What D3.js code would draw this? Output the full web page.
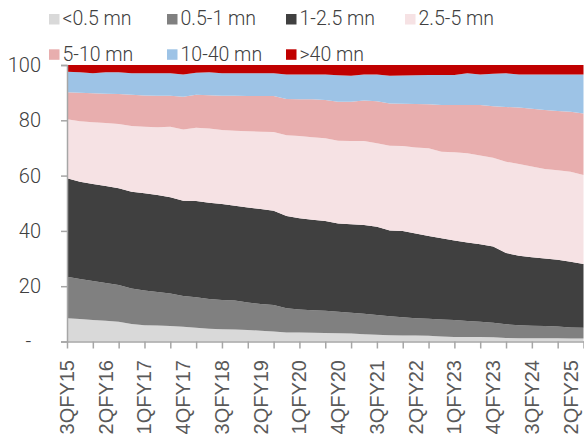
<!DOCTYPE html>
<html>
<head>
<meta charset="utf-8">
<script src="https://cdn.jsdelivr.net/npm/d3@7"></script>
<style>
  html, body { margin: 0; padding: 0; background: #fff; }
  svg { display: block; }
  .ylab { font-family: Roboto, sans-serif; font-weight: 300; font-size: 20px; fill: #404040; white-space: pre; }
  .xlab { font-family: "Liberation Sans", Arial, sans-serif; font-size: 20px; fill: #595959; }
  .leg { font-family: Roboto, sans-serif; font-weight: 300; font-size: 19.5px; fill: #404040; }
</style>
</head>
<body>
<div class="canvas"></div>
<script>

// quarters on the x axis
const quarters = ["3QFY15","4QFY15","1QFY16","2QFY16","3QFY16","4QFY16","1QFY17","2QFY17",
  "3QFY17","4QFY17","1QFY18","2QFY18","3QFY18","4QFY18","1QFY19","2QFY19","3QFY19","4QFY19",
  "1QFY20","2QFY20","3QFY20","4QFY20","1QFY21","2QFY21","3QFY21","4QFY21","1QFY22","2QFY22",
  "3QFY22","4QFY22","1QFY23","2QFY23","3QFY23","4QFY23","1QFY24","2QFY24","3QFY24","4QFY24",
  "1QFY25","2QFY25","3QFY25"];

// share (%) of each ticket-size bucket, per quarter
const below05 = [8.4,8.1,7.8,7.5,7.1,6.3,5.9,5.8,5.6,5.3,5.0,4.6,4.4,4.3,4.2,3.9,3.6,3.3,3.3,3.2,
  3.1,3.0,2.9,2.6,2.4,2.3,2.2,2.2,2.1,1.8,1.6,1.6,1.6,1.5,1.3,1.2,1.2,1.2,1.2,1.1,1.1];
const from05to1 = [15.0,14.5,14.1,13.7,13.3,12.9,12.5,12.1,11.8,11.2,11.0,10.8,10.6,10.5,9.9,9.7,
  9.6,8.7,8.3,8.1,8.0,7.8,7.5,7.4,7.2,6.8,6.6,6.2,6.1,6.2,6.2,5.8,5.5,5.3,4.9,4.7,4.5,4.4,4.2,4.0,3.9];
const from1to25 = [35.6,35.2,35.1,35.0,35.0,35.0,35.2,35.1,34.8,34.4,34.8,34.8,34.7,34.3,34.4,34.3,
  34.1,33.4,33.0,32.7,32.5,31.9,32.0,32.1,31.9,31.0,31.2,30.7,30.0,29.3,28.7,28.4,28.1,27.6,25.8,
  25.1,24.8,24.4,24.2,23.7,23.0];
const from25to5 = [21.4,21.9,22.3,22.8,23.3,23.7,24.1,24.5,25.5,25.8,26.5,26.8,26.8,27.1,27.5,28.0,
  28.5,29.2,29.7,29.9,29.9,29.9,30.1,30.4,30.2,30.7,30.7,31.1,31.7,31.3,31.9,32.3,32.1,32.1,33.0,
  33.2,32.8,32.4,32.3,32.6,32.2];
const from5to10 = [9.7,10.3,10.5,10.6,10.8,11.3,11.3,11.4,11.2,11.8,11.9,12.1,12.4,12.7,12.8,12.9,
  13.0,13.1,13.3,13.7,13.8,14.1,14.2,14.7,15.2,15.3,15.3,15.7,15.9,16.9,17.1,17.4,18.2,18.6,19.8,
  20.4,20.9,21.3,21.5,21.7,22.3];
const from10to40 = [7.5,7.4,7.2,7.8,7.9,7.8,8.0,8.1,8.1,8.1,8.0,8.3,8.1,8.1,8.2,8.2,8.2,8.9,9.0,9.0,
  9.3,9.6,9.4,9.4,9.7,10.0,10.2,10.4,10.6,10.9,10.9,11.5,11.1,11.7,12.2,12.0,12.4,12.9,13.2,13.5,14.1];
const above40 = [2.4,2.6,3.0,2.6,2.6,3.0,3.0,3.0,3.0,3.4,2.8,2.6,3.0,3.0,3.0,3.0,3.0,3.4,3.4,3.4,
  3.4,3.7,3.9,3.4,3.4,3.9,3.8,3.7,3.6,3.6,3.6,3.0,3.4,3.2,3.0,3.4,3.4,3.4,3.4,3.4,3.4];

const seriesNames = ["<0.5 mn","0.5-1 mn","1-2.5 mn","2.5-5 mn","5-10 mn","10-40 mn",">40 mn"];
const seriesValues = [below05, from05to1, from1to25, from25to5, from5to10, from10to40, above40];
const seriesColors = ["#d9d9d9","#808080","#404040","#f6e2e4","#e8aeae","#9dc3e6","#c00000"];

const yTicks = [0,20,40,60,80,100];
const yTickLabels = ["-  ","20","40","60","80","100"];

const width = 584, height = 441;

const svg = d3.select('.canvas')
  .append('svg')
    .attr('width', width)
    .attr('height', height);

// one row per quarter for d3.stack
const rows = quarters.map((q, i) => {
  const row = {quarter: q};
  seriesNames.forEach((name, k) => row[name] = seriesValues[k][i]);
  return row;
});

const stacked = d3.stack().keys(seriesNames)(rows);

const x = d3.scalePoint()
  .domain(quarters)
  .range([67, 583.5]);

const y = d3.scaleLinear()
  .domain([0, 100])
  .range([341.5, 65]);

const area = d3.area()
  .x(d => x(d.data.quarter))
  .y0(d => y(d[0]))
  .y1(d => y(d[1]));

svg.append('g')
  .selectAll('path')
  .data(stacked)
  .enter()
  .append('path')
    .attr('d', area)
    .attr('fill', (d, i) => seriesColors[i]);

// y axis
const yAxis = svg.append('g')
  .attr('transform', `translate(${x.range()[0]},0)`)
  .call(d3.axisLeft(y)
    .tickValues(yTicks)
    .tickSize(6)
    .tickPadding(20)
    .tickFormat((d, i) => yTickLabels[i]));
yAxis.select('.domain').attr('stroke', '#a6a6a6').attr('stroke-width', 1.5);
yAxis.selectAll('.tick line').attr('stroke', '#a6a6a6').attr('stroke-width', 1.5);
yAxis.selectAll('.tick text').attr('class', 'ylab').attr('fill', null)
  .attr('font-size', null).attr('font-family', null);

// x axis: tick marks every 2 quarters, labels every 3
const xAxis = svg.append('g')
  .attr('transform', `translate(0,${y(0)})`)
  .call(d3.axisBottom(x)
    .tickValues(quarters.filter((q, i) => i % 2 === 0))
    .tickSize(7)
    .tickSizeOuter(0)
    .tickFormat(''));
xAxis.select('.domain').attr('stroke', '#a6a6a6').attr('stroke-width', 1.5);
xAxis.selectAll('.tick line').attr('stroke', '#a6a6a6').attr('stroke-width', 1.5);

svg.append('g')
  .selectAll('text')
  .data(quarters.filter((q, i) => i % 3 === 0))
  .enter()
  .append('text')
    .attr('class', 'xlab')
    .attr('transform', d => `translate(${x(d)},360) rotate(-90)`)
    .attr('text-anchor', 'end')
    .attr('dy', '0.35em')
    .text(d => d);

// legend, 4 columns x 2 rows
const legCols = [49, 167, 286, 405];
const legRows = [14, 49.3];

const legend = svg.append('g')
  .selectAll('g')
  .data(seriesNames)
  .enter()
  .append('g')
    .attr('transform', (d, i) => `translate(${legCols[i % 4]},${legRows[Math.floor(i / 4)]})`);

legend.append('rect')
  .attr('width', 10.5)
  .attr('height', 10.5)
  .attr('fill', (d, i) => seriesColors[i]);

legend.append('text')
  .attr('class', 'leg')
  .attr('x', 13.5)
  .attr('y', 11.3)
  .text(d => d);

</script>
</body>
</html>
